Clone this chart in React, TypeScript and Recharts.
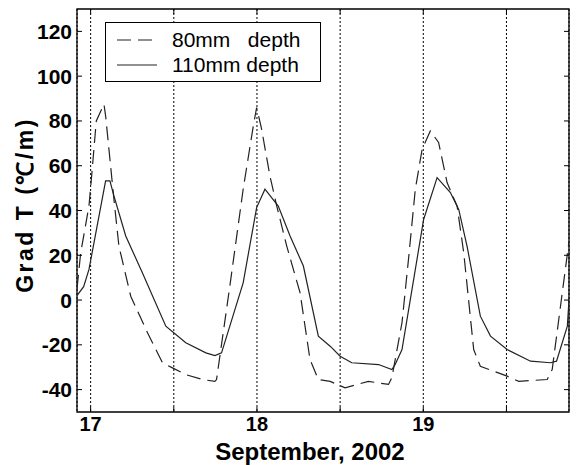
import { LineChart, Line, XAxis, YAxis, CartesianGrid, Legend, ReferenceArea } from "recharts";

// 110mm depth (solid) - day of September 2002, gradient in degC/m
const solidDays = [
  16.918, 16.958, 16.99, 17.09, 17.116, 17.14, 17.211, 17.311, 17.452, 17.572,
  17.693, 17.747, 17.787, 17.917, 17.998, 18.048, 18.128, 18.199, 18.279, 18.369,
  18.44, 18.5, 18.57, 18.731, 18.811, 18.831, 18.872, 19.002, 19.083, 19.163,
  19.213, 19.263, 19.343, 19.404, 19.504, 19.645, 19.765, 19.801, 19.866, 19.876,
];
const solidValues = [
  2, 6, 13.7, 53.2, 53.2, 46.5, 28.6, 12.2, -11.7, -19.1,
  -23.6, -24.8, -23.6, 7.7, 41.3, 49.5, 42, 28.6, 15.2, -16.1,
  -20.6, -25.1, -28, -28.8, -31, -28.8, -22.1, 36, 54.7, 48,
  40.5, 24.1, -7.2, -16.1, -22.1, -27.3, -28, -27.3, -11.7, 0,
];

// 80mm depth (dashed)
const dashDays = [
  16.918, 16.94, 16.99, 17.006, 17.034, 17.08, 17.09, 17.11, 17.14, 17.17,
  17.241, 17.342, 17.432, 17.492, 17.572, 17.673, 17.747, 17.757, 17.837, 17.917,
  17.978, 17.998, 18.028, 18.078, 18.119, 18.179, 18.259, 18.319, 18.369, 18.44,
  18.53, 18.67, 18.791, 18.811, 18.872, 18.911, 18.952, 18.993, 19.042, 19.092,
  19.143, 19.203, 19.243, 19.303, 19.343, 19.504, 19.574, 19.745, 19.775, 19.825,
  19.875,
];
const dashValues = [
  5, 21, 42, 55.4, 80, 87.5, 82.3, 67.4, 45, 24.1,
  1.7, -14.6, -28, -30.3, -33.3, -35.5, -36.3, -35.5, 6.3, 49.5,
  77.8, 86, 76.3, 55.4, 42, 24.1, 3.3, -26.6, -35.5, -36.3,
  -39.2, -36.3, -37.7, -34.7, -10.1, 18.2, 49.5, 67.4, 75.5, 70.4,
  52.5, 42, 21.2, -22.1, -29.6, -34, -36.3, -35.5, -31, -2.7,
  25.6,
];

const xTicks = [17, 17.5, 18, 18.5, 19, 19.5];
const yTicks = [-40, -20, 0, 20, 40, 60, 80, 100, 120];
const xDomain = [16.918, 19.876];
const yDomain = [-50, 130];

const seriesNames = ["80mm\u00a0\u00a0\u00a0depth", "110mm depth"];

const solidData = solidDays.map((d, i) => ({ day: d, v: solidValues[i] }));
const dashData = dashDays.map((d, i) => ({ day: d, v: dashValues[i] }));

const W = 576;
const H = 465;
const LEFT = 77;
const RIGHT = 569;
const TOP = 9;
const BOTTOM = 412;
const FONT = "'Liberation Sans', Arial, Helvetica, sans-serif";

function XTick(props: any) {
  const { x, payload } = props;
  const isDay = Number.isInteger(payload.value);
  return (
    <g>
      <line x1={x} y1={BOTTOM} x2={x} y2={BOTTOM - 5} stroke="#000" />
      <line x1={x} y1={TOP} x2={x} y2={TOP + 5} stroke="#000" />
      {isDay && (
        <text x={x} y={BOTTOM + 19} textAnchor="middle" fontSize={20} fontWeight="bold" fontFamily={FONT} fill="#000">
          {payload.value}
        </text>
      )}
    </g>
  );
}

function YTick(props: any) {
  const { x, y, payload } = props;
  return (
    <g>
      <line x1={LEFT} y1={y} x2={LEFT + 5} y2={y} stroke="#000" />
      <line x1={RIGHT - 5} y1={y} x2={RIGHT} y2={y} stroke="#000" />
      <text x={x} y={y + 7.5} textAnchor="end" fontSize={21} fontWeight="bold" fontFamily={FONT} fill="#000">
        {payload.value}
      </text>
    </g>
  );
}

function LegendBox() {
  return (
    <div
      style={{
        width: 216,
        height: 60,
        boxSizing: "border-box",
        border: "1px solid #000",
        background: "#fff",
        position: "relative",
        fontFamily: FONT,
        fontSize: 21,
        color: "#000",
      }}
    >
      {seriesNames.map((name, i) => (
        <div key={name} style={{ position: "absolute", left: 0, top: 4 + i * 25, height: 25, width: 214 }}>
          <svg width={60} height={25} style={{ position: "absolute", left: 0, top: 0 }}>
            <line
              x1={11}
              y1={13}
              x2={51}
              y2={13}
              stroke="#222"
              strokeWidth={1.2}
              strokeDasharray={i === 0 ? "14 7" : undefined}
            />
          </svg>
          <span style={{ position: "absolute", left: 66, top: 0, lineHeight: "25px", whiteSpace: "pre" }}>{name}</span>
        </div>
      ))}
    </div>
  );
}

function YLabel() {
  return (
    <text
      x={33}
      y={205}
      transform="rotate(-90 33 205)"
      textAnchor="middle"
      fontSize={23}
      fontWeight="bold"
      fontFamily={FONT}
      letterSpacing={2.5}
      fill="#000"
    >
      Grad T (℃/m)
    </text>
  );
}

export default function App() {
  return (
    <div style={{ position: "absolute", left: 0, top: 0, background: "#fff" }}>
      <LineChart
        width={W}
        height={H}
        margin={{ top: TOP, right: W - RIGHT, left: LEFT - 60, bottom: 0 }}
      >
        <CartesianGrid horizontal={false} stroke="#000" strokeDasharray="2 2" strokeWidth={1} />
        <XAxis
          dataKey="day"
          type="number"
          domain={xDomain}
          ticks={xTicks}
          allowDataOverflow
          height={H - BOTTOM}
          axisLine={false}
          tickLine={false}
          tickSize={0}
          tick={<XTick />}
          label={{
            value: "September, 2002",
            position: "insideTop",
            offset: 31,
            dx: -13,
            fontSize: 24,
            fontWeight: "bold",
            fontFamily: FONT,
            fill: "#000",
          }}
        />
        <YAxis
          type="number"
          domain={yDomain}
          ticks={yTicks}
          allowDataOverflow
          width={60}
          axisLine={false}
          tickLine={false}
          tickSize={0}
          tickMargin={5}
          tick={<YTick />}
          label={<YLabel />}
        />
        <ReferenceArea x1={xDomain[0]} x2={xDomain[1]} y1={yDomain[0]} y2={yDomain[1]} fill="none" stroke="#000" strokeWidth={1.3} />
        <Line
          data={dashData}
          dataKey="v"
          name={seriesNames[0]}
          type="linear"
          stroke="#222"
          strokeWidth={1.2}
          strokeDasharray="14 7"
          dot={false}
          isAnimationActive={false}
        />
        <Line
          data={solidData}
          dataKey="v"
          name={seriesNames[1]}
          type="linear"
          stroke="#222"
          strokeWidth={1.2}
          dot={false}
          isAnimationActive={false}
        />
        <Legend
          layout="horizontal"
          verticalAlign="middle"
          align="center"
          content={<LegendBox />}
          wrapperStyle={{ left: 105, top: 22, width: 216, height: 60 }}
        />
      </LineChart>
    </div>
  );
}
